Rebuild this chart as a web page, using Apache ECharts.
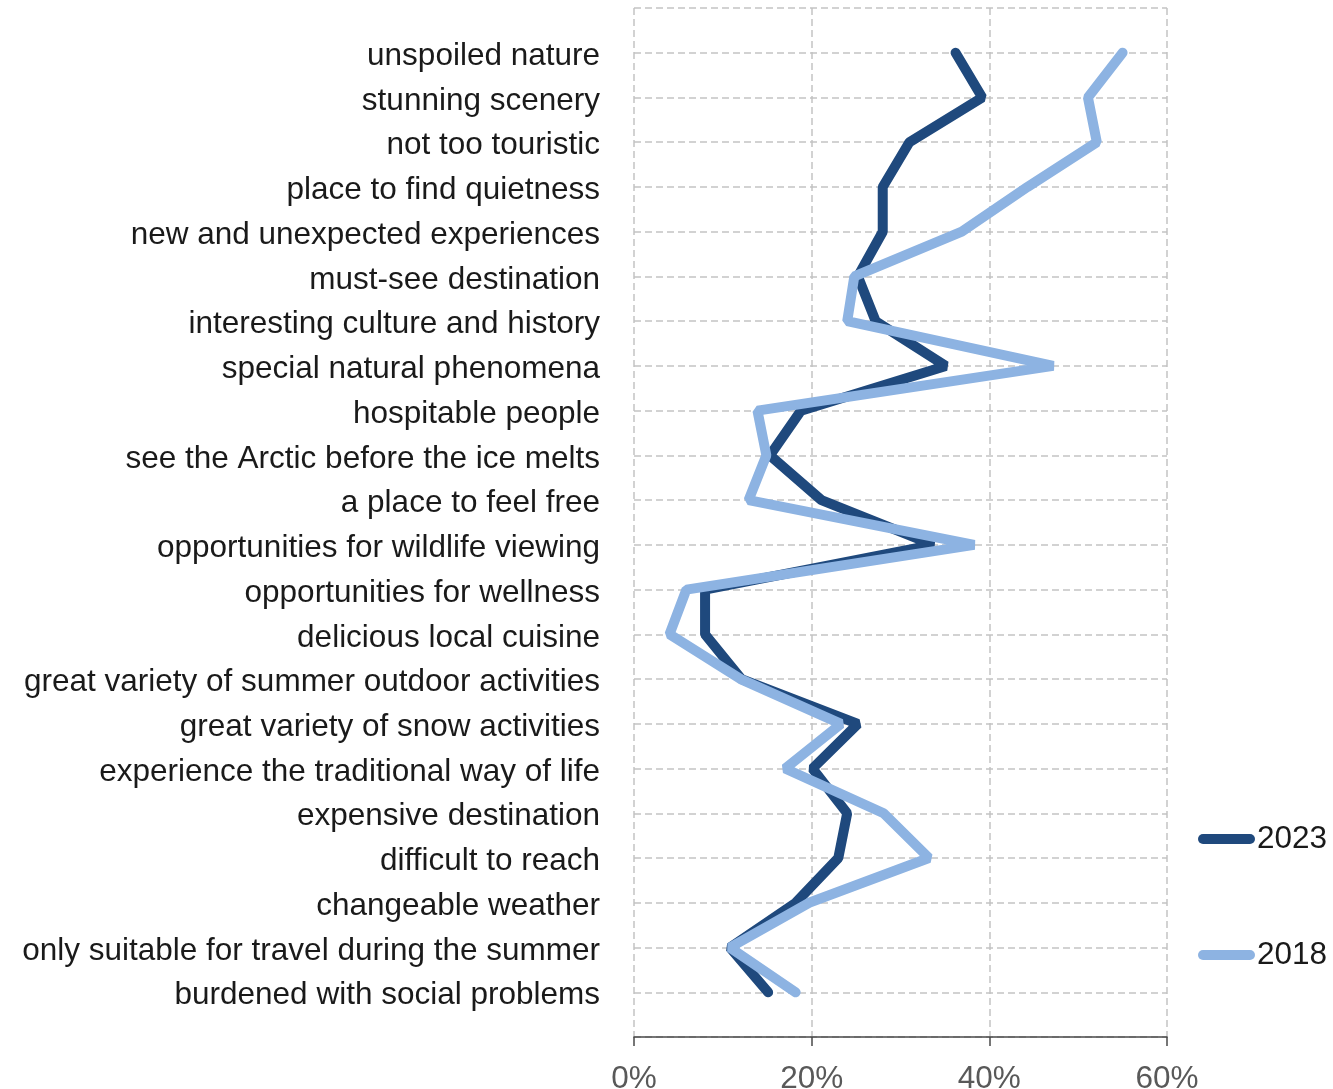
<!DOCTYPE html>
<html>
<head>
<meta charset="utf-8">
<script src="https://cdn.jsdelivr.net/npm/echarts@6/dist/echarts.min.js"></script>
<style>
  html, body { margin: 0; padding: 0; background: #fff; }
  #chart { width: 1333px; height: 1089px; }
</style>
</head>
<body>
<div id="chart"></div>
<script>
const categories = [
  'unspoiled nature',
  'stunning scenery',
  'not too touristic',
  'place to find quietness',
  'new and unexpected experiences',
  'must-see destination',
  'interesting culture and history',
  'special natural phenomena',
  'hospitable people',
  'see the Arctic before the ice melts',
  'a place to feel free',
  'opportunities for wildlife viewing',
  'opportunities for wellness',
  'delicious local cuisine',
  'great variety of summer outdoor activities',
  'great variety of snow activities',
  'experience the traditional way of life',
  'expensive destination',
  'difficult to reach',
  'changeable weather',
  'only suitable for travel during the summer',
  'burdened with social problems'
]
const values2023 = [36.2, 39.2, 31.0, 28.0, 28.0, 25.2, 27.2, 35.1, 18.8, 15.3, 21.1, 33.7,
  8.0, 8.0, 12.1, 25.2, 20.1, 24.0, 23.0, 18.2, 10.8, 15.1]
const values2018 = [55.0, 51.1, 52.1, 44.3, 36.9, 24.8, 24.0, 47.2, 13.9, 14.9, 12.9, 38.3,
  5.9, 4.0, 12.0, 23.3, 17.0, 28.1, 33.2, 19.7, 10.8, 18.2]
const xTicks = [0, 20, 40, 60]

// pad with an empty slot above and below so the rows sit a full step in
const yCats = [''].concat(categories, [''])
const pad = arr => [null].concat(arr, [null])

const gridDash = {
  show: true,
  lineStyle: { color: '#c3c3c3', width: 1.5, type: [7, 4] }
}
const capsule = 'path://M5,0 L52,0 A5,5 0 0 1 52,10 L5,10 A5,5 0 0 1 5,0 Z'
const fs = 31.5

const legendFor = (name, top) => ({
  data: [name],
  orient: 'vertical',
  left: 1198,
  top: top,
  padding: 0,
  icon: capsule,
  itemWidth: 57,
  itemHeight: 10,
  textStyle: { fontSize: fs, color: '#1a1a1a', padding: [0, 0, 0, -3] }
})

const chart = echarts.init(document.getElementById('chart'), null, { renderer: 'canvas' })
chart.setOption({
  animation: false,
  textStyle: { fontFamily: 'Liberation Sans, Arial, sans-serif' },
  grid: { left: 634, right: 166, top: 8, bottom: 52, containLabel: false, outerBoundsMode: 'none' },
  xAxis: {
    type: 'value',
    min: xTicks[0],
    max: xTicks[xTicks.length - 1],
    interval: 20,
    axisLine: { show: true, lineStyle: { color: '#4a4a4a', width: 1.5 } },
    axisTick: { show: true, length: 9, lineStyle: { color: '#4a4a4a', width: 1.5 } },
    axisLabel: {
      formatter: '{value}%',
      fontSize: fs,
      color: '#595959',
      margin: 26
    },
    splitLine: gridDash
  },
  yAxis: {
    type: 'category',
    data: yCats,
    inverse: true,
    boundaryGap: false,
    axisLine: { show: false },
    axisTick: { show: false },
    axisLabel: {
      interval: 0,
      margin: 34,
      formatter: v => '{t|' + v + '}',
      rich: { t: { fontSize: fs, color: '#1a1a1a', padding: [7, 0, 0, 0] } }
    },
    splitLine: Object.assign({ interval: 0 }, gridDash)
  },
  legend: [legendFor('2023', 823), legendFor('2018', 939)],
  series: [
    {
      name: '2023',
      type: 'line',
      data: pad(values2023),
      showSymbol: false,
      symbol: 'none',
      color: '#1f497d',
      lineStyle: { width: 10, color: '#1f497d', cap: 'round' }
    },
    {
      name: '2018',
      type: 'line',
      data: pad(values2018),
      showSymbol: false,
      symbol: 'none',
      color: '#8db3e2',
      lineStyle: { width: 10, color: '#8db3e2', cap: 'round' }
    }
  ]
})
</script>
</body>
</html>
